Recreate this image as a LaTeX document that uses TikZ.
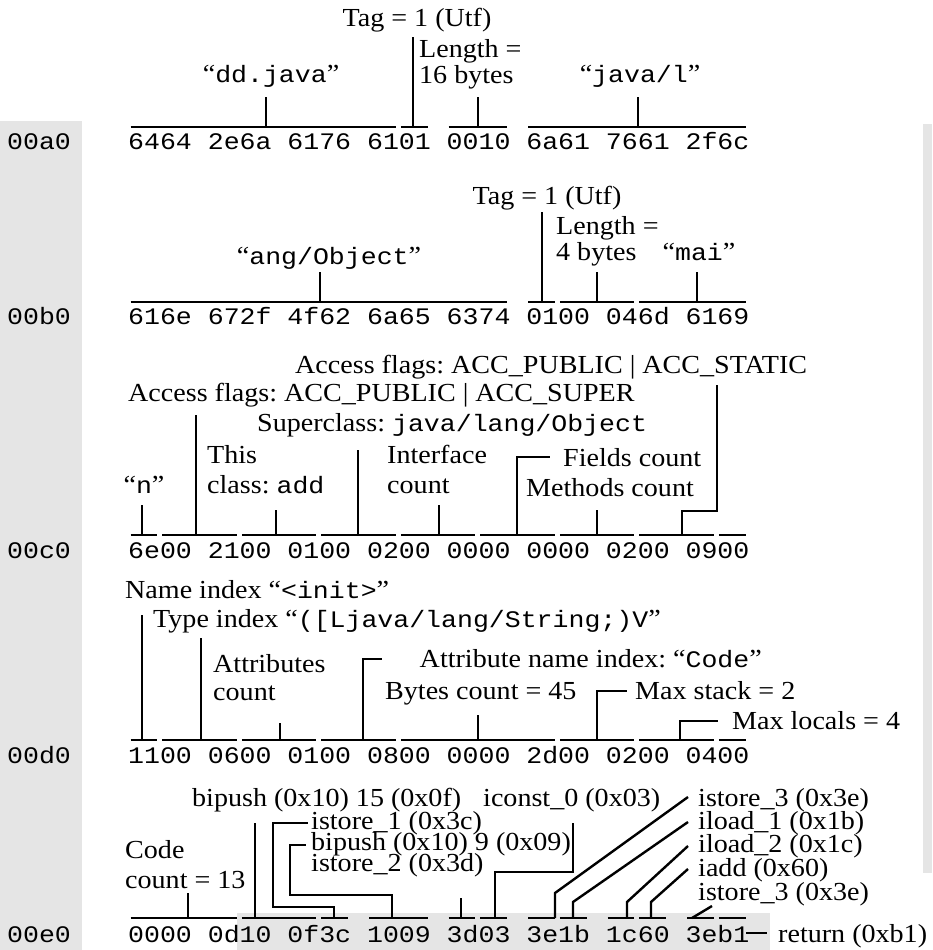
\documentclass[tikz,border=0pt]{standalone}
\usepackage{fontspec}
\setmainfont{Liberation Serif}[FakeStretch=1.08]
\setmonofont{Liberation Mono}[FakeStretch=1.12]
\frenchspacing
\definecolor{dumpgrey}{gray}{0.9}
\newcommand\jcode[1]{{\ttfamily\fontsize{23.7}{28}\selectfont #1}}
% one underline bar over the hex characters #2 .. #3 of a row at height #1
\newcommand\hexbar[3]{\draw[barline] ({128+15.9*#2+2.5},#1) -- ({128+15.9*#3-2.5},#1);}
\tikzset{
	lbl/.style={inner sep=0pt, font=\fontsize{26}{28}\selectfont},
	hex/.style={inner sep=0pt, anchor=base west, font=\ttfamily\fontsize{23.7}{28}\selectfont},
	barline/.style={line width=2.6pt},
	tickline/.style={line width=2.4pt}
}

\begin{document}
\begin{tikzpicture}[x=1pt, y=-1pt]
	\useasboundingbox (0,0) rectangle (932,950);
	\fill[dumpgrey] (0,121) rectangle (82,950);
	\fill[dumpgrey] (923,124) rectangle (932,873);
	\fill[dumpgrey] (237,913) rectangle (770,950);

	% hex rows
	\node[hex] (adra0) at (7,149) {00a0};
	\node[hex] (rowa0) at (128,149) {6464 2e6a 6176 6101 0010 6a61 7661 2f6c};
	\node[hex] (adrb0) at (7,324) {00b0};
	\node[hex] (rowb0) at (128,324) {616e 672f 4f62 6a65 6374 0100 046d 6169};
	\node[hex] (adrc0) at (7,558) {00c0};
	\node[hex] (rowc0) at (128,558) {6e00 2100 0100 0200 0000 0000 0200 0900};
	\node[hex] (adrd0) at (7,763) {00d0};
	\node[hex] (rowd0) at (128,763) {1100 0600 0100 0800 0000 2d00 0200 0400};
	\node[hex] (adre0) at (7,942) {00e0};
	\node[hex] (rowe0) at (128,942) {0000 0d10 0f3c 1009 3d03 3e1b 1c60 3eb1};

	% row 00a0
	\hexbar{127}{0}{17} \hexbar{127}{17}{19} \hexbar{127}{20}{24} \hexbar{127}{25}{39}
	\node[lbl, anchor=base] (taga) at (417,27) {Tag = 1 (Utf)};
	\node[lbl, anchor=base west] (lena) at (419,57) {Length =};
	\node[lbl, anchor=base west] (bytesa) at (419,83) {16 bytes};
	\node[lbl, anchor=base] (ddjava) at (271,82) {“\jcode{dd.java}”};
	\node[lbl, anchor=base] (javal) at (640,82) {“\jcode{java/l}”};
	\draw[tickline] (266,127) -- (266,97);
	\draw[tickline] (413,127) -- (413,37);
	\draw[tickline] (478,127) -- (478,97);
	\draw[tickline] (638,127) -- (638,97);

	% row 00b0
	\hexbar{302}{0}{24} \hexbar{302}{25}{27} \hexbar{302}{27}{32} \hexbar{302}{32}{39}
	\node[lbl, anchor=base] (tagb) at (547,204) {Tag = 1 (Utf)};
	\node[lbl, anchor=base west] (lenb) at (556,234) {Length =};
	\node[lbl, anchor=base west] (bytesb) at (556,260) {4 bytes};
	\node[lbl, anchor=base] (mai) at (699,260) {“\jcode{mai}”};
	\node[lbl, anchor=base] (angobj) at (329,264) {“\jcode{ang/Object}”};
	\draw[tickline] (320,302) -- (320,272);
	\draw[tickline] (542,302) -- (542,212);
	\draw[tickline] (597,302) -- (597,272);
	\draw[tickline] (697,302) -- (697,272);

	% row 00c0
	\hexbar{535}{0}{2} \hexbar{535}{2}{7} \hexbar{535}{7}{12} \hexbar{535}{12}{17} \hexbar{535}{17}{22}
	\hexbar{535}{22}{27} \hexbar{535}{27}{32} \hexbar{535}{32}{37} \hexbar{535}{37}{39}
	\node[lbl, anchor=base west] (accstatic) at (295,373) {Access flags: ACC\_PUBLIC | ACC\_STATIC};
	\node[lbl, anchor=base west] (accsuper) at (128,401) {Access flags: ACC\_PUBLIC | ACC\_SUPER};
	\node[lbl, anchor=base west] (superclass) at (257,431) {Superclass: \jcode{java/lang/Object}};
	\node[lbl, anchor=base west] (thisa) at (207,463) {This};
	\node[lbl, anchor=base west] (thisb) at (207,493) {class: \jcode{add}};
	\node[lbl, anchor=base] (nchar) at (144,493) {“\jcode{n}”};
	\node[lbl, anchor=base west] (intfa) at (387,463) {Interface};
	\node[lbl, anchor=base west] (intfb) at (387,493) {count};
	\node[lbl, anchor=base west] (fields) at (563,466) {Fields count};
	\node[lbl, anchor=base west] (methods) at (526,496) {Methods count};
	\draw[tickline] (142,535) -- (142,505);
	\draw[tickline] (196,535) -- (196,415);
	\draw[tickline] (276,535) -- (276,510);
	\draw[tickline] (358,535) -- (358,450);
	\draw[tickline] (439,535) -- (439,505);
	\draw[tickline] (517,535) -- (517,457) -- (550,457);
	\draw[tickline] (597,535) -- (597,510);
	\draw[tickline] (682,535) -- (682,511) -- (717,511) -- (717,385);

	% row 00d0
	\hexbar{740}{0}{2} \hexbar{740}{2}{7} \hexbar{740}{7}{12} \hexbar{740}{12}{17}
	\hexbar{740}{17}{27} \hexbar{740}{27}{32} \hexbar{740}{32}{37} \hexbar{740}{37}{39}
	\node[lbl, anchor=base west] (nameidx) at (125,598) {Name index “\jcode{<init>}”};
	\node[lbl, anchor=base west] (typeidx) at (153,627) {Type index “\jcode{([Ljava/lang/String;)V}”};
	\node[lbl, anchor=base west] (attra) at (213,672) {Attributes};
	\node[lbl, anchor=base west] (attrb) at (213,700) {count};
	\node[lbl, anchor=base east] (attrname) at (762,667) {Attribute name index: “\jcode{Code}”};
	\node[lbl, anchor=base west] (bytescnt) at (385,699) {Bytes count = 45};
	\node[lbl, anchor=base west] (maxstack) at (635,699) {Max stack = 2};
	\node[lbl, anchor=base west] (maxlocals) at (732,729) {Max locals = 4};
	\draw[tickline] (142,740) -- (142,615);
	\draw[tickline] (201,740) -- (201,638);
	\draw[tickline] (280,740) -- (280,723);
	\draw[tickline] (363,740) -- (363,659) -- (382,659);
	\draw[tickline] (478,740) -- (478,715);
	\draw[tickline] (597,740) -- (597,691) -- (627,691);
	\draw[tickline] (680,740) -- (680,721) -- (718,721);

	% row 00e0
	\hexbar{918}{0}{7} \hexbar{918}{7}{12} \hexbar{918}{12}{14} \hexbar{918}{15}{19}
	\hexbar{918}{20}{22} \hexbar{918}{22}{24} \hexbar{918}{25}{27} \hexbar{918}{27}{29}
	\hexbar{918}{30}{32} \hexbar{918}{32}{34} \hexbar{918}{35}{37} \hexbar{918}{37}{39}
	\node[lbl, anchor=base west] (codea) at (125,858) {Code};
	\node[lbl, anchor=base west] (codeb) at (125,888) {count = 13};
	\node[lbl, anchor=base west] (bipfive) at (192,806) {bipush (0x10) 15 (0x0f)};
	\node[lbl, anchor=base west] (iconst) at (483,806) {iconst\_0 (0x03)};
	\node[lbl, anchor=base west] (istone) at (311,829) {istore\_1 (0x3c)};
	\node[lbl, anchor=base west] (bipnine) at (311,850) {bipush (0x10) 9 (0x09)};
	\node[lbl, anchor=base west] (isttwo) at (311,871) {istore\_2 (0x3d)};
	\node[lbl, anchor=base west] (istthra) at (698,806) {istore\_3 (0x3e)};
	\node[lbl, anchor=base west] (ildone) at (698,829) {iload\_1 (0x1b)};
	\node[lbl, anchor=base west] (ildtwo) at (698,852) {iload\_2 (0x1c)};
	\node[lbl, anchor=base west] (iadd) at (698,876) {iadd (0x60)};
	\node[lbl, anchor=base west] (istthrb) at (698,900) {istore\_3 (0x3e)};
	\node[lbl, anchor=base west] (ret) at (778,942) {return (0xb1)};
	\draw[tickline] (188,918) -- (188,893);
	\draw[tickline] (255,918) -- (255,823);
	\draw[tickline] (334,918) -- (334,907) -- (273,907) -- (273,823) -- (308,823);
	\draw[tickline] (392,918) -- (392,895) -- (290,895) -- (290,845) -- (306,845);
	\draw[tickline] (461,918) -- (461,898);
	\draw[tickline] (495,918) -- (495,872) -- (573,872) -- (573,823);
	\draw[tickline] (555,918) -- (555,893) -- (688,797);
	\draw[tickline] (573,918) -- (573,902) -- (688,822);
	\draw[tickline] (627,918) -- (627,902) -- (688,846);
	\draw[tickline] (651,918) -- (651,902) -- (688,869);
	\draw[tickline] (692,918) -- (712,906);
	\draw[tickline] (746,933) -- (767,933);
\end{tikzpicture}
\end{document}
